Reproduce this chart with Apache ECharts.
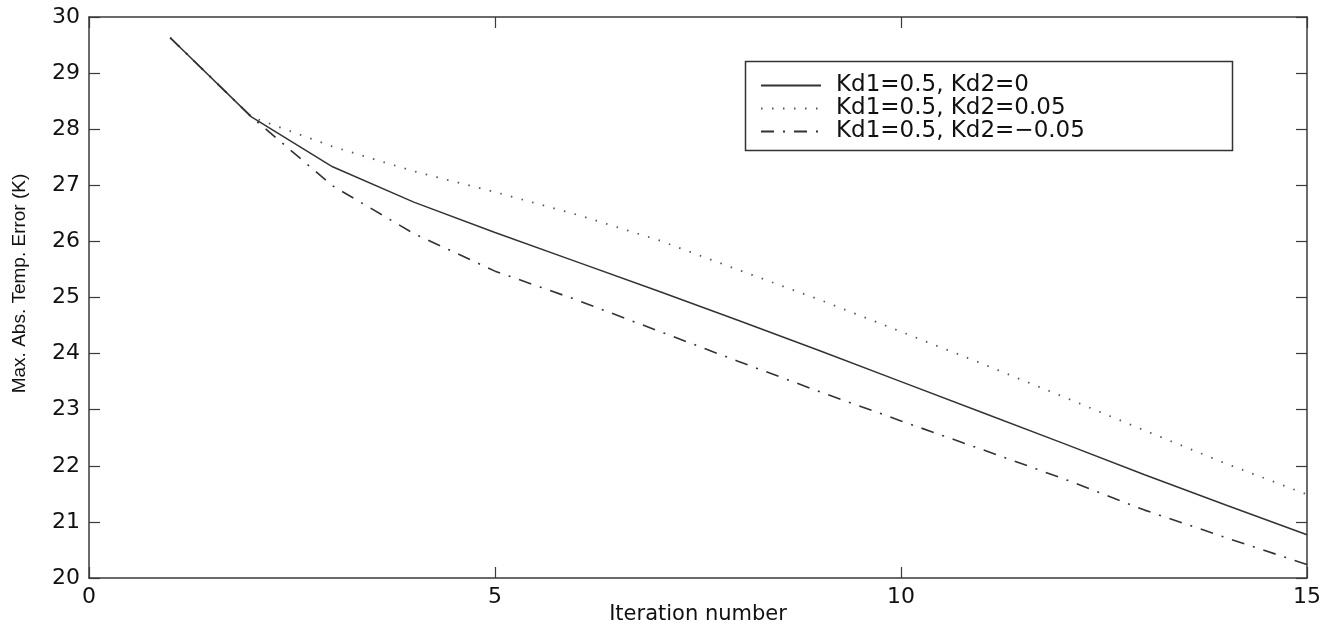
<!DOCTYPE html>
<html>
<head>
<meta charset="utf-8">
<script src="https://cdn.jsdelivr.net/npm/echarts@6/dist/echarts.min.js"></script>
<style>
html,body{margin:0;padding:0;background:#fff;}
#chart{width:1339px;height:627px;}
</style>
</head>
<body>
<div id="chart"></div>
<script>
const iterations = [1,2,3,4,5,6,7,8,9,10,11,12,13,14,15];
const seriesNames = ['Kd1=0.5, Kd2=0', 'Kd1=0.5, Kd2=0.05', 'Kd1=0.5, Kd2=\u22120.05'];
const kd2Zero = [29.63, 28.22, 27.33, 26.70, 26.16, 25.64, 25.12, 24.59, 24.05, 23.50, 22.95, 22.40, 21.84, 21.30, 20.77];
const kd2Pos = [29.63, 28.22, 27.69, 27.25, 26.88, 26.48, 26.03, 25.49, 24.96, 24.39, 23.82, 23.23, 22.63, 22.04, 21.49];
const kd2Neg = [29.63, 28.22, 26.99, 26.14, 25.47, 24.96, 24.41, 23.86, 23.32, 22.80, 22.29, 21.77, 21.21, 20.72, 20.24];
const xTicks = [0, 5, 10, 15];
const yTicks = [20,21,22,23,24,25,26,27,28,29,30];

const pair = arr => iterations.map((x, i) => [x, arr[i]]);
const axisColor = '#3a3a3a';
const font = 'DejaVu Sans';

const chart = echarts.init(document.getElementById('chart'));
const baseAxis = {
  axisLine: {show: true, onZero: false, lineStyle: {color: axisColor, width: 1.5}},
  axisTick: {show: true, inside: true, length: 11, lineStyle: {color: axisColor, width: 1.2}},
  splitLine: {show: false}
};
chart.setOption({
  animation: false,
  backgroundColor: '#fff',
  grid: {left: 89, right: 32, top: 17, bottom: 49, containLabel: false, outerBoundsMode: 'none'},
  xAxis: [
    Object.assign({}, baseAxis, {
      type: 'value', min: xTicks[0], max: xTicks[xTicks.length-1], interval: 5, position: 'bottom',
      axisLabel: {color: '#111', fontFamily: font, fontSize: 22, margin: 8},
      name: 'Iteration number', nameLocation: 'middle', nameGap: 26, nameMoveOverlap: false,
      nameTextStyle: {color: '#111', fontFamily: font, fontSize: 21}
    }),
    Object.assign({}, baseAxis, {
      type: 'value', min: xTicks[0], max: xTicks[xTicks.length-1], interval: 5, position: 'top',
      axisLabel: {show: false}
    })
  ],
  yAxis: [
    Object.assign({}, baseAxis, {
      type: 'value', min: yTicks[0], max: yTicks[yTicks.length-1], interval: 1, position: 'left',
      axisLabel: {color: '#111', fontFamily: font, fontSize: 22, margin: 9},
      name: 'Max. Abs. Temp. Error (K)', nameLocation: 'middle', nameGap: 60, nameMoveOverlap: false,
      nameTextStyle: {color: '#111', fontFamily: 'Liberation Sans', fontSize: 19, padding: [0,0,0,28]}
    }),
    Object.assign({}, baseAxis, {
      type: 'value', min: yTicks[0], max: yTicks[yTicks.length-1], interval: 1, position: 'right',
      axisLabel: {show: false}
    })
  ],
  legend: {
    orient: 'vertical', left: 755, top: 69, itemWidth: 60, itemHeight: 14, itemGap: 0,
    itemStyle: {opacity: 0},
    textStyle: {color: '#111', fontFamily: font, fontSize: 23, lineHeight: 23, padding: [0,0,0,10]},
    data: seriesNames
  },
  graphic: [{
    type: 'rect', left: 743, top: 59, shape: {width: 487, height: 89},
    style: {fill: 'none', stroke: '#333', lineWidth: 1.5}, z: 10
  }],
  series: [
    {name: seriesNames[1], type: 'line', data: pair(kd2Pos), showSymbol: false, symbol: 'none',
     itemStyle: {color: '#555'},
     lineStyle: {color: '#555', width: 1.8, type: [1.5, 9.5]}, z: 2},
    {name: seriesNames[2], type: 'line', data: pair(kd2Neg), showSymbol: false, symbol: 'none',
     itemStyle: {color: '#333'},
     lineStyle: {color: '#333', width: 1.6, type: [13, 9, 2, 9]}, z: 3},
    {name: seriesNames[0], type: 'line', data: pair(kd2Zero), showSymbol: false, symbol: 'none',
     itemStyle: {color: '#333'},
     lineStyle: {color: '#333', width: 1.5, type: 'solid'}, z: 4}
  ]
});
</script>
</body>
</html>
